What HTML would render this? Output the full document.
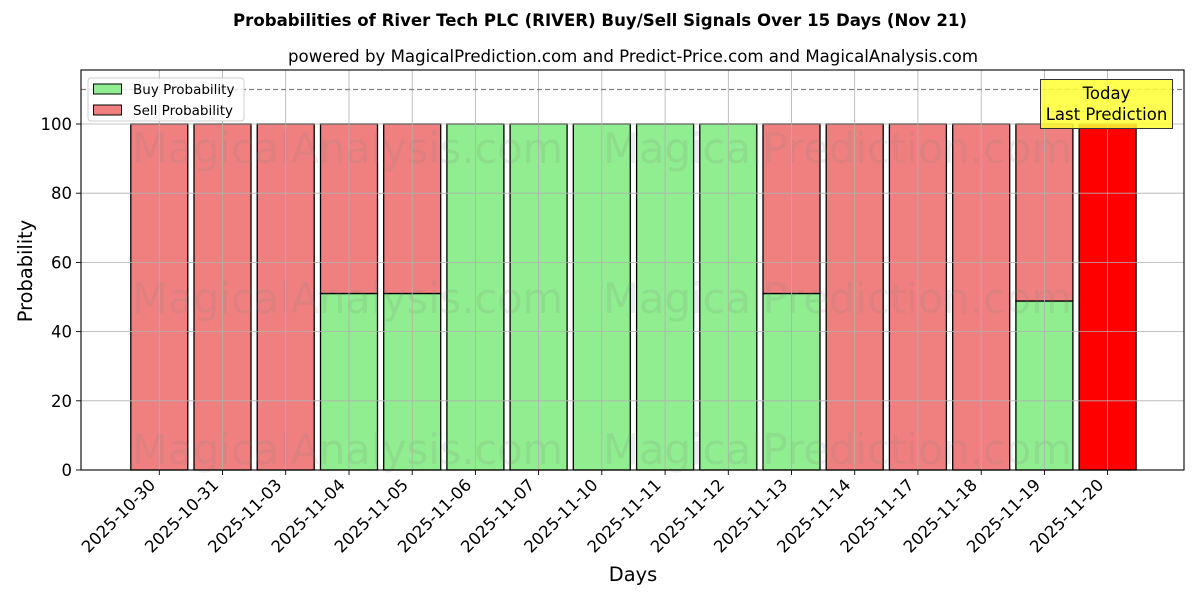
<!DOCTYPE html>
<html><head><meta charset="utf-8"><style>
html,body{margin:0;padding:0;background:#fff;}
svg{display:block;font-family:"DejaVu Sans","Liberation Sans",sans-serif;}
</style></head><body>
<svg width="1200" height="600" viewBox="0 0 1200 600" xmlns="http://www.w3.org/2000/svg">
<rect width="1200" height="600" fill="#fff"/>
<!-- titles -->
<text x="600" y="26" text-anchor="middle" font-size="16.5" font-weight="bold" fill="#000" textLength="734" lengthAdjust="spacingAndGlyphs">Probabilities of River Tech PLC (RIVER) Buy/Sell Signals Over 15 Days (Nov 21)</text>
<text x="633" y="62" text-anchor="middle" font-size="16.5" fill="#000" textLength="690" lengthAdjust="spacingAndGlyphs">powered by MagicalPrediction.com and Predict-Price.com and MagicalAnalysis.com</text>

<!-- bars -->
<g stroke="#000" stroke-width="1.3">
<rect x="130.8" y="124" width="57" height="346" fill="#f08080"/>
<rect x="194.0" y="124" width="57" height="346" fill="#f08080"/>
<rect x="257.2" y="124" width="57" height="346" fill="#f08080"/>
<rect x="320.5" y="293.5" width="57" height="176.5" fill="#90ee90"/>
<rect x="320.5" y="124" width="57" height="169.5" fill="#f08080"/>
<rect x="383.7" y="293.5" width="57" height="176.5" fill="#90ee90"/>
<rect x="383.7" y="124" width="57" height="169.5" fill="#f08080"/>
<rect x="446.9" y="124" width="57" height="346" fill="#90ee90"/>
<rect x="510.1" y="124" width="57" height="346" fill="#90ee90"/>
<rect x="573.3" y="124" width="57" height="346" fill="#90ee90"/>
<rect x="636.6" y="124" width="57" height="346" fill="#90ee90"/>
<rect x="699.8" y="124" width="57" height="346" fill="#90ee90"/>
<rect x="763.0" y="293.5" width="57" height="176.5" fill="#90ee90"/>
<rect x="763.0" y="124" width="57" height="169.5" fill="#f08080"/>
<rect x="826.2" y="124" width="57" height="346" fill="#f08080"/>
<rect x="889.4" y="124" width="57" height="346" fill="#f08080"/>
<rect x="952.7" y="124" width="57" height="346" fill="#f08080"/>
<rect x="1015.9" y="301" width="57" height="169" fill="#90ee90"/>
<rect x="1015.9" y="124" width="57" height="177" fill="#f08080"/>
<rect x="1079.1" y="124" width="57" height="346" fill="#ff0000"/>
</g>

<!-- watermarks -->
<g font-size="41.5" fill="#808080" fill-opacity="0.15">
<text x="132" y="163" textLength="431" lengthAdjust="spacingAndGlyphs">MagicalAnalysis.com</text>
<text x="603" y="163" textLength="469" lengthAdjust="spacingAndGlyphs">MagicalPrediction.com</text>
<text x="132" y="313" textLength="431" lengthAdjust="spacingAndGlyphs">MagicalAnalysis.com</text>
<text x="603" y="313" textLength="469" lengthAdjust="spacingAndGlyphs">MagicalPrediction.com</text>
<text x="132" y="464" textLength="431" lengthAdjust="spacingAndGlyphs">MagicalAnalysis.com</text>
<text x="603" y="464" textLength="469" lengthAdjust="spacingAndGlyphs">MagicalPrediction.com</text>
</g>

<!-- grid -->
<g stroke="#b0b0b0" stroke-width="0.8">
<line x1="81" x2="1184" y1="400.8" y2="400.8"/>
<line x1="81" x2="1184" y1="331.6" y2="331.6"/>
<line x1="81" x2="1184" y1="262.4" y2="262.4"/>
<line x1="81" x2="1184" y1="193.2" y2="193.2"/>
<line x1="81" x2="1184" y1="124" y2="124"/>
<line y1="70" y2="470" x1="159.3" x2="159.3"/>
<line y1="70" y2="470" x1="222.5" x2="222.5"/>
<line y1="70" y2="470" x1="285.7" x2="285.7"/>
<line y1="70" y2="470" x1="349.0" x2="349.0"/>
<line y1="70" y2="470" x1="412.2" x2="412.2"/>
<line y1="70" y2="470" x1="475.4" x2="475.4"/>
<line y1="70" y2="470" x1="538.6" x2="538.6"/>
<line y1="70" y2="470" x1="601.8" x2="601.8"/>
<line y1="70" y2="470" x1="665.1" x2="665.1"/>
<line y1="70" y2="470" x1="728.3" x2="728.3"/>
<line y1="70" y2="470" x1="791.5" x2="791.5"/>
<line y1="70" y2="470" x1="854.7" x2="854.7"/>
<line y1="70" y2="470" x1="917.9" x2="917.9"/>
<line y1="70" y2="470" x1="981.2" x2="981.2"/>
<line y1="70" y2="470" x1="1044.4" x2="1044.4"/>
<line y1="70" y2="470" x1="1107.6" x2="1107.6"/>
</g>

<!-- dashed 110 line -->
<line x1="81" x2="1184" y1="89.5" y2="89.5" stroke="#808080" stroke-width="1.2" stroke-dasharray="5,3"/>

<!-- spines -->
<rect x="81" y="70" width="1103" height="400" fill="none" stroke="#000" stroke-width="1.1"/>

<!-- y ticks -->
<g stroke="#000" stroke-width="0.9">
<line x1="76" x2="81" y1="470" y2="470"/>
<line x1="76" x2="81" y1="400.8" y2="400.8"/>
<line x1="76" x2="81" y1="331.6" y2="331.6"/>
<line x1="76" x2="81" y1="262.4" y2="262.4"/>
<line x1="76" x2="81" y1="193.2" y2="193.2"/>
<line x1="76" x2="81" y1="124" y2="124"/>
</g>
<g font-size="16.5" text-anchor="end" fill="#000">
<text x="72" y="476">0</text>
<text x="72" y="406.8">20</text>
<text x="72" y="337.6">40</text>
<text x="72" y="268.4">60</text>
<text x="72" y="199.2">80</text>
<text x="72" y="130">100</text>
</g>

<!-- x ticks -->
<g stroke="#000" stroke-width="0.9">
<line y1="470" y2="475" x1="159.3" x2="159.3"/>
<line y1="470" y2="475" x1="222.5" x2="222.5"/>
<line y1="470" y2="475" x1="285.7" x2="285.7"/>
<line y1="470" y2="475" x1="349.0" x2="349.0"/>
<line y1="470" y2="475" x1="412.2" x2="412.2"/>
<line y1="470" y2="475" x1="475.4" x2="475.4"/>
<line y1="470" y2="475" x1="538.6" x2="538.6"/>
<line y1="470" y2="475" x1="601.8" x2="601.8"/>
<line y1="470" y2="475" x1="665.1" x2="665.1"/>
<line y1="470" y2="475" x1="728.3" x2="728.3"/>
<line y1="470" y2="475" x1="791.5" x2="791.5"/>
<line y1="470" y2="475" x1="854.7" x2="854.7"/>
<line y1="470" y2="475" x1="917.9" x2="917.9"/>
<line y1="470" y2="475" x1="981.2" x2="981.2"/>
<line y1="470" y2="475" x1="1044.4" x2="1044.4"/>
<line y1="470" y2="475" x1="1107.6" x2="1107.6"/>
</g>
<g font-size="16.5" text-anchor="end" fill="#000">
<text transform="translate(156.3,486) rotate(-45)">2025-10-30</text>
<text transform="translate(219.5,486) rotate(-45)">2025-10-31</text>
<text transform="translate(282.7,486) rotate(-45)">2025-11-03</text>
<text transform="translate(346.0,486) rotate(-45)">2025-11-04</text>
<text transform="translate(409.2,486) rotate(-45)">2025-11-05</text>
<text transform="translate(472.4,486) rotate(-45)">2025-11-06</text>
<text transform="translate(535.6,486) rotate(-45)">2025-11-07</text>
<text transform="translate(598.8,486) rotate(-45)">2025-11-10</text>
<text transform="translate(662.1,486) rotate(-45)">2025-11-11</text>
<text transform="translate(725.3,486) rotate(-45)">2025-11-12</text>
<text transform="translate(788.5,486) rotate(-45)">2025-11-13</text>
<text transform="translate(851.7,486) rotate(-45)">2025-11-14</text>
<text transform="translate(914.9,486) rotate(-45)">2025-11-17</text>
<text transform="translate(978.2,486) rotate(-45)">2025-11-18</text>
<text transform="translate(1041.4,486) rotate(-45)">2025-11-19</text>
<text transform="translate(1104.6,486) rotate(-45)">2025-11-20</text>
</g>

<!-- axis labels -->
<text x="633" y="581" text-anchor="middle" font-size="19.4" fill="#000">Days</text>
<text transform="translate(32,271) rotate(-90)" text-anchor="middle" font-size="19.4" fill="#000">Probability</text>

<!-- legend -->
<rect x="88" y="78" width="156" height="43" rx="3" fill="#fff" fill-opacity="0.8" stroke="#cccccc" stroke-width="1"/>
<rect x="93.5" y="84" width="28" height="10" fill="#90ee90" stroke="#000" stroke-width="1"/>
<rect x="93.5" y="105" width="28" height="10" fill="#f08080" stroke="#000" stroke-width="1"/>
<text x="133" y="94" font-size="13.5" fill="#000">Buy Probability</text>
<text x="133" y="115" font-size="13.5" fill="#000">Sell Probability</text>

<!-- today box -->
<rect x="1040.5" y="79.5" width="132" height="49" fill="#ffff33" fill-opacity="0.85" stroke="#333" stroke-width="1"/>
<text x="1106.5" y="99" text-anchor="middle" font-size="16.5" fill="#000">Today</text>
<text x="1106.5" y="120" text-anchor="middle" font-size="16.5" fill="#000">Last Prediction</text>
</svg>
</body></html>
